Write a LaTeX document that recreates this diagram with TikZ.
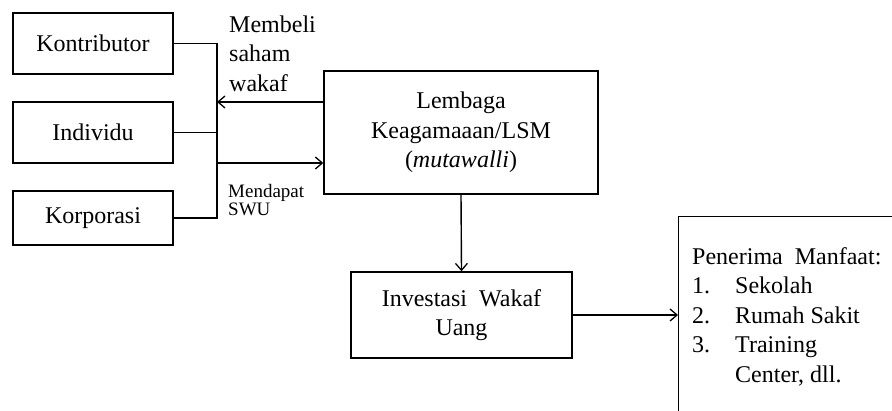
\documentclass[tikz,border=0pt]{standalone}
\usepackage{fontspec}
\setmainfont{Liberation Serif}
\usetikzlibrary{arrows.meta}
\tikzset{
	box/.style={draw, line width=1.4pt, inner sep=0pt, align=center},
	conn/.style={line width=1.4pt},
	arr/.style={conn, -{Straight Barb[length=7pt,width=12pt,line width=1.3pt]}},
	lbl/.style={inner sep=0pt, align=left, anchor=north west}
}

\begin{document}
\begin{tikzpicture}[x=1pt, y=-1pt, font=\fontsize{24}{29.5}\selectfont]
		%%%%% START %%%%%
		
		\useasboundingbox (0, 0) rectangle (892, 411);
		\clip (0, 0) rectangle (892, 411);
		
		\node[box, minimum width=160pt, minimum height=61pt] (kontributor) at (93, 43.5) {Kontributor};
		\node[box, minimum width=160pt, minimum height=61pt] (individu) at (93, 132.5) {Individu};
		\node[box, minimum width=160pt, minimum height=54pt] (korporasi) at (93, 218) {Korporasi};
		
		\node[box, minimum width=274pt, minimum height=123pt] (lembaga) at (461, 132.5) {Lembaga\\Keagamaaan/LSM\\(\textit{mutawalli})};
		\node[box, minimum width=221pt, minimum height=86pt] (investasi) at (461.5, 315) {Investasi\hspace{6pt} Wakaf\\Uang};
		\node[box, anchor=north west, minimum width=260pt, minimum height=240pt] (penerima) at (678, 216) {};
		
		\node[lbl] (manfaat) at (692, 247) {Penerima\hspace{6pt} Manfaat:\\\makebox[43pt][l]{1.}Sekolah\\\makebox[43pt][l]{2.}Rumah Sakit\\\makebox[43pt][l]{3.}Training\\\hspace*{43pt}Center, dll.};
		
		\node[lbl] (membeli) at (229, 15.5) {Membeli\\saham\\wakaf};
		\node[lbl, font=\fontsize{19}{18.5}\selectfont] (mendapat) at (228, 184) {Mendapat\\SWU};
		
		% the bus on the left
		\coordinate (bus) at (217, 0);
		\draw[conn] (kontributor.east) -| (korporasi.east -| bus) -- (korporasi.east);
		\draw[conn] (individu.east) -- (individu.east -| bus);
		
		\coordinate (give) at ([yshift=30.5pt]lembaga.west);
		\coordinate (take) at ([yshift=-30.5pt]lembaga.west);
		\draw[arr] (give) -- (give -| bus);
		\draw[arr] (take -| bus) -- (take);
		
		\draw[arr] (lembaga.south) -- (investasi.north);
		\draw[arr] (investasi.east) -- (investasi.east -| penerima.west);
		
		%%%%% END %%%%%
	\end{tikzpicture}
\end{document}
